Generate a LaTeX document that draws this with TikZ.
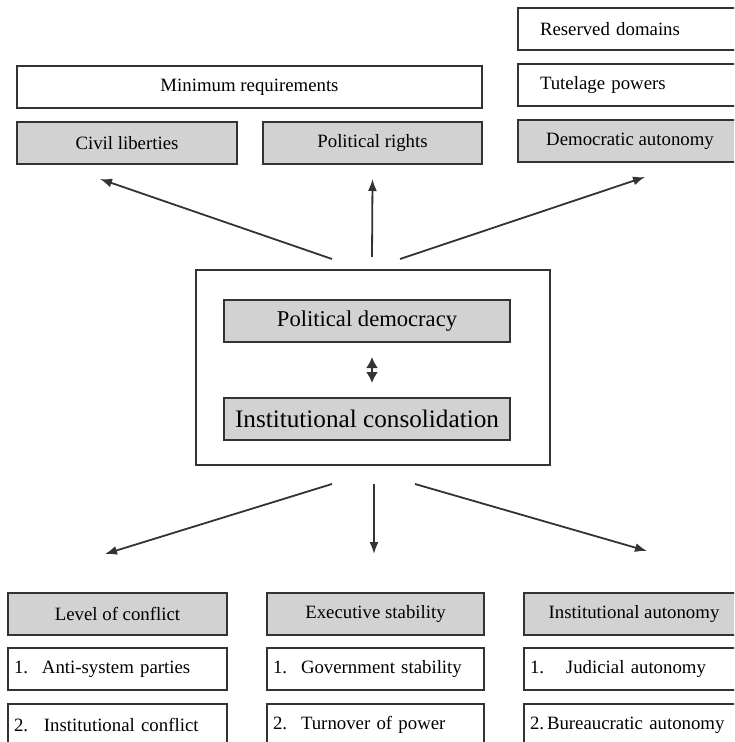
\documentclass[tikz,border=0pt]{standalone}
\usepackage{fontspec}
\setmainfont{Liberation Serif}
\usetikzlibrary{arrows.meta}

\begin{document}
\begin{tikzpicture}[%
        x = 0.5pt,
        y = -0.5pt,
        my box/.style = {%
          draw = black!80,
          line width = 1pt,
          minimum height = 21pt,
          inner sep = 0pt,
          font = \fontsize{9.4}{11}\selectfont,
        },
        my gray/.style = {my box, fill = gray!35},
        my item/.style = {my box, align = left, inner xsep = 3pt, text width = 103.5pt},
        my side/.style = {my box, align = left, inner xsep = 11pt, text width = 90pt},
        my core/.style = {my gray, minimum width = 143pt},
        my arrow/.style = {-{Latex[length=6pt, width=4.5pt]}, line width = 0.9pt, draw = black!80},
      ]
      \clip (0,0) rectangle (734,742);
      \fill[white] (0,0) rectangle (734,742);

      % top row
      \node[my side] (resdom) at (630,29) {Reserved domains};
      \node[my side] (tutel) at (630,85) {Tutelage powers};
      \node[my gray, minimum width=112pt] (demaut) at (630,141) {Democratic autonomy};
      \node[my box, minimum width=232.5pt] (minreq) at (249.5,87) {Minimum requirements};
      \node[my gray, minimum width=110pt] (civlib) at (127,143) {Civil liberties};
      \node[my gray, minimum width=109.5pt] (polrig) at (372.5,143) {Political rights};

      % centre
      \node[draw=black!80, line width=1pt, minimum width=177pt, minimum height=97.5pt] (outer) at (373,367.5) {};
      \node[my core, font=\fontsize{11.3}{13}\selectfont] (poldem) at (367,321) {Political democracy};
      \node[my core, font=\fontsize{12.6}{14}\selectfont] (instcon) at (367,419) {Institutional consolidation};
      \draw[{Latex[length=5.5pt, width=6pt]}-{Latex[length=5.5pt, width=6pt]}, line width=1.1pt, draw=black!80,
            shorten >=7pt, shorten <=7pt] ([xshift=2.5pt]poldem.south) -- ([xshift=2.5pt]instcon.north);

      % bottom rows
      \node[my gray, minimum width=109.5pt] (conflict) at (117.5,614) {Level of conflict};
      \node[my gray, minimum width=108.5pt] (exec) at (375.5,614) {Executive stability};
      \node[my gray, minimum width=110pt] (instaut) at (634,614) {Institutional autonomy};
      \node[my item] (antisys) at (117.5,669) {\makebox[14pt][l]{1.}Anti-system parties};
      \node[my item, text width=102.5pt] (govstab) at (375.5,669) {\makebox[14pt][l]{1.}Government stability};
      \node[my item, text width=104pt] (judaut) at (634,669) {\makebox[18pt][l]{1.}Judicial autonomy};
      \node[my item] (instconf) at (117.5,725) {\makebox[15pt][l]{2.}Institutional conflict};
      \node[my item, text width=102.5pt] (turnover) at (375.5,725) {\makebox[14pt][l]{2.}Turnover of power};
      \node[my item, text width=104pt] (buraut) at (634,725) {\makebox[8.5pt][l]{2.}Bureaucratic autonomy};

      % arrows
      \draw[my arrow] ([xshift=-20.5pt, yshift=5pt]outer.north) -- ([xshift=-13.5pt, yshift=-7pt]civlib.south);
      \draw[my arrow] ([xshift=-0.5pt, yshift=6pt]outer.north) -- ([yshift=-7pt]polrig.south);
      \draw[my arrow] ([xshift=13.5pt, yshift=5pt]outer.north) -- ([xshift=7.5pt, yshift=-7pt]demaut.south);
      \draw[my arrow] ([xshift=-20.5pt, yshift=-9pt]outer.south) -- ([xshift=-6.25pt, yshift=19pt]conflict.north);
      \draw[my arrow] ([xshift=0.5pt, yshift=-9pt]outer.south) -- ([xshift=-0.75pt, yshift=19pt]exec.north);
      \draw[my arrow] ([xshift=21pt, yshift=-9pt]outer.south) -- ([xshift=6.5pt, yshift=20.5pt]instaut.north);
    \end{tikzpicture}
\end{document}
